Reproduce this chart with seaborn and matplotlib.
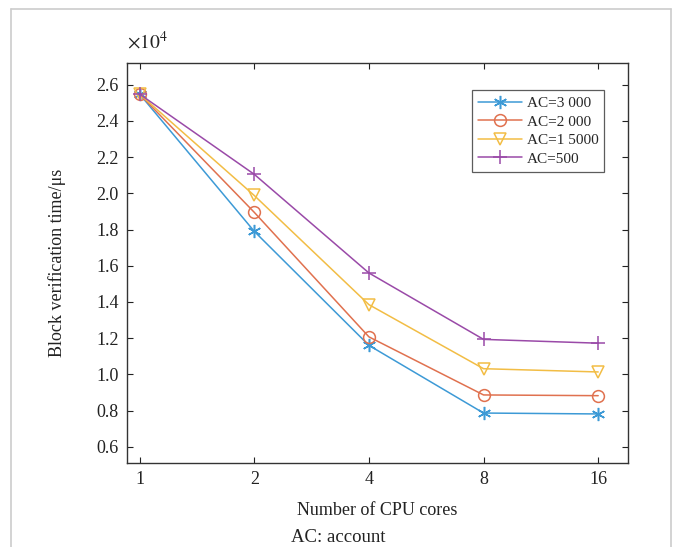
import matplotlib
matplotlib.use("Agg")
import matplotlib.pyplot as plt
import seaborn as sns
import pandas as pd
from matplotlib.lines import Line2D

cores = ["1", "2", "4", "8", "16"]
ac3000 = [2.548, 1.790, 1.160, 0.786, 0.781]
ac2000 = [2.548, 1.895, 1.207, 0.886, 0.882]
ac1500 = [2.548, 1.988, 1.385, 1.031, 1.013]
ac500 = [2.548, 2.105, 1.560, 1.193, 1.172]
series_names = ["AC=3 000", "AC=2 000", "AC=1 5000", "AC=500"]
y_ticks = [0.6, 0.8, 1.0, 1.2, 1.4, 1.6, 1.8, 2.0, 2.2, 2.4, 2.6]

sns.set_theme(style="ticks")
plt.rcParams["font.family"] = ["Liberation Serif", "DejaVu Serif"]
plt.rcParams["mathtext.fontset"] = "stix"

rows = []
for name, vals in zip(series_names, [ac3000, ac2000, ac1500, ac500]):
    for c, v in zip(cores, vals):
        rows.append({"cores": c, "time": v * 1e4, "series": name})
df = pd.DataFrame(rows)
df["time_scaled"] = df["time"] / 1e4

colors = ["#3d9ad6", "#e0714f", "#f2bd45", "#9a4aa8"]
markers = [(6, 2, 0), "o", "v", "+"]
msizes = [9.5, 8.5, 8.5, 10]

fig = plt.figure(figsize=(6.76, 5.47), dpi=100)
ax = fig.add_axes([127 / 676, 1 - 463 / 547, (628 - 127) / 676, (463 - 63) / 547])

for name, col, mk, ms in zip(series_names, colors, markers, msizes):
    sub = df[df["series"] == name]
    sns.lineplot(data=sub, x="cores", y="time_scaled", ax=ax, color=col, lw=1.1,
                 marker=mk, markersize=ms, markerfacecolor="none",
                 markeredgecolor=col, markeredgewidth=1.1, label=name, sort=False)

ax.set_xlim(-0.11, 4.26)
ax.set_ylim(0.51, 2.72)
ax.set_yticks(y_ticks)
ax.set_yticklabels([f"{t:.1f}" for t in y_ticks])
ax.tick_params(direction="in", top=True, right=True, labelsize=13, colors="#222222",
               length=4, width=0.8, pad=6)
for s in ax.spines.values():
    s.set_color("#333333")
    s.set_linewidth(1.0)
ax.set_xlabel("Number of CPU cores", fontsize=13, labelpad=10, color="#222222")
ax.set_ylabel("Block verification time/μs", fontsize=13, labelpad=22, color="#222222")
ax.text(0.0, 1.025, r"$\times 10^4$", transform=ax.transAxes, fontsize=14,
        ha="left", va="bottom", color="#222222")

handles = [Line2D([0], [0], color=c, lw=1.1, marker=m, markersize=s, markerfacecolor="none",
                  markeredgecolor=c, markeredgewidth=1.1)
           for c, m, s in zip(colors, markers, msizes)]
leg = ax.legend(handles, series_names, loc="upper right", bbox_to_anchor=(0.953, 0.932),
                fontsize=11, frameon=True, fancybox=False, borderpad=0.4, labelspacing=0.32,
                handlelength=2.9, handletextpad=0.3, borderaxespad=0)
leg.get_frame().set_edgecolor("#333333")
leg.get_frame().set_linewidth(0.9)

fig.text(0.5, 1 - 537 / 547, "AC: account", ha="center", va="center", fontsize=13.5,
         color="#222222")

# light outer frame
fig.add_artist(Line2D([11 / 676, 11 / 676], [0, 1 - 8.5 / 547], transform=fig.transFigure,
                      color="#cccccc", lw=1.2))
fig.add_artist(Line2D([11 / 676, 671 / 676], [1 - 8.5 / 547, 1 - 8.5 / 547],
                      transform=fig.transFigure, color="#cccccc", lw=1.2))
fig.add_artist(Line2D([671 / 676, 671 / 676], [0, 1 - 8.5 / 547], transform=fig.transFigure,
                      color="#cccccc", lw=1.2))

fig.savefig("out.png", dpi=100)
